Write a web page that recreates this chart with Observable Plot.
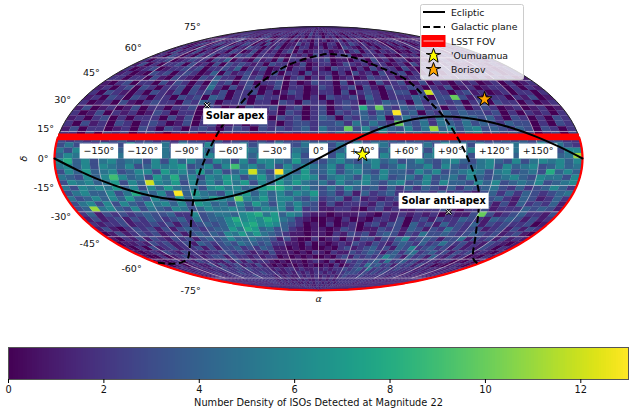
<!DOCTYPE html>
<html>
<head>
<meta charset="utf-8">
<script src="https://cdn.jsdelivr.net/npm/d3@7"></script>
<script src="https://cdn.jsdelivr.net/npm/@observablehq/plot@0.6"></script>
<style>
html,body{margin:0;padding:0;background:#fff;}
#wrap{position:relative;width:633px;height:414px;overflow:hidden;font-family:"DejaVu Sans";}
#wrap svg{display:block;}
#legend{position:absolute;left:420px;top:4px;}
</style>
</head>
<body>
<div id="wrap"></div>
<script>
// Counts per cell. One string per 3 degree declination row (+90 at top),
// one base-14 digit per 6 degree right ascension column (-180 at left).
const densityRows = [
"1212112121 1212122121 1212212112 1212112121 1221212121 1212212112",
"2112121211 2121211212 1121212211 2121121212 1212112121 2112121212",
"1221211212 1212212112 2121211212 1121212212 1121212121 1221211212",
"1022123021 2031202212 1202211312 1012212102 1202102212 1201202021",
"2012202132 1202231012 2102120212 2021201202 1220201202 1012201202",
"1201302122 3021201302 1202012102 1201220212 0121201122 1021201202",
"2013102312 0213202031 2201131202 1022021321 2012102021 2012012021",
"1202031203 2302132202 1301202201 2021032102 1202201202 1201202012",
"2031203021 2203201302 1202302012 2201202302 2021201021 1202012102",
"1203202031 3022032302 2201021203 1202230022 1201021202 2012021202",
"2022301232 2032402103 1203022012 2301102203 1202201102 1202201202",
"1302022303 1203032321 2032201301 2201321202 2012031202 1201021021",
"2012301223 2302232402 2301302202 1032202031 2203102012 2012201012",
"1201032302 3201403123 1203022031 2202031203 1230202202 1201202012",
"2202203103 2103242203 2302202302 1301201322 2012230121 2202021201",
"1023022031 3202042302 3022302013 2203022031 2301302102 1201202012",
"1202303202 2303152031 3201302201 3202303103 2232021301 2012202021",
"2032102032 1303231302 2302013201 2203023202 3303c32023 1201202202",
"1203203202 2032304302 2032201202 0322314202 2243033a31 2022021301",
"2012031023 2203243022 3022032032 2023203243 3042332302 3032202012",
"1301201302 2022303201 0322302302 3023283a32 4342302302 3201201201",
"2013021201 3202201302 2301203202 303234243d 3403243433 2302021202",
"1202302022 2031302023 1202032302 4303243503 5342532443 4203202032",
"2031203202 3201302301 2023202332 334253532a 4352543534 3243302032",
"1302201203 2032023202 3203232342 533a363643 635b463563 4324303202",
"2203032302 3202331323 2322323233 4353453635 4534643563 4343302303",
"3232323423 3232433242 3323243343 3433434443 3434443433 3434343322",
"3533253363 4352533632 3534353354 5353635534 4353645353 4354363532",
"5363534453 6354356434 5654363543 5346453463 5536344635 4653465366",
"4653664534 3654634656 3646534634 5364363646 4356436354 634636345b",
"6846356455 3636464365 3636654743 3564356453 4643564356 4363565646",
"5646365463 4656734636 9564636465 4636546346 4463643456 3645634645",
"3647456346 6375647463 46c53d6474 4635643644 3646345653 5634538464",
"5436469645 3758463657 6357465676 3565364634 5363453643 4564365536",
"3656457364 c657364647 5736475754 5364564356 3463644364 6345463456",
"5365657463 6475453675 6457886464 3536434242 4243242434 5324234642",
"3564463585 463d475436 5746464657 3424142342 2332423213 4242432345",
"5346464743 6437465765 a657466435 2341312123 2231231422 3421431242",
"3563636436 5646376453 6475364643 1312221321 1312123121 3131423241",
"34b5643635 4365346556 5346563623 1122102312 1122231022 3122243431",
"2413232343 3422634554 6785746521 1011121021 2121202113 a312342213",
"1312313243 2342534468 6768754210 0102010221 3023132243 2143431312",
"2122312232 3132343467 7867643201 0201202313 3042314232 4132322301",
"1310232313 1343234475 8745342101 1013201132 3143132532 3312313132",
"0131232312 3134343657 5754321101 1021323134 3132533432 3432312310",
"1021313213 2313434644 5443131002 0120213313 2462343133 5132313121",
"0112132312 3143234354 4342211020 1012132132 1343242353 2312132101",
"1020312312 2313133423 2431101010 0102312342 3143623423 1312132021",
"1012132132 2122332321 2131110102 1021132343 1342452342 3132312102",
"1002012312 1233132212 1220101010 0102313232 3643142314 2131201021",
"0101202132 2113131312 2101011012 1020132323 4252342312 2122010202",
"1012012113 1312312131 1010101010 0102012325 3423132313 1201012101",
"2121212122 3223232222 1212212112 1212232342 5232323222 1212121212",
"1212112212 2232222322 2112121212 2121223332 3232322221 2121211212",
"2111212122 2222322221 2121121212 1212123222 3222222122 1212112121",
"1212121212 2222222212 1211212112 1212122222 2222221212 1212121211",
"2121212121 2121222121 2121121212 2121212222 2212212121 2112121212",
"1212112212 1212121212 1212212112 1212122121 2121212112 1212112121",
"2112121121 2121212121 2112121212 1212121212 1212121221 2121212121",
"1211212112 1212121212 1212112121 2121212121 1212121212 1212121212"
];

const eclipticRA  = [-180,-165,-150,-135,-120,-105,-90,-75,-60,-45,-30,-15,0,15,30,45,60,75,90,105,120,135,150,165,180];
const eclipticDec = [0,-6.4,-12.3,-17.1,-20.6,-22.8,-23.5,-22.8,-20.6,-17.1,-12.3,-6.4,0,6.4,12.3,17.1,20.6,22.8,23.5,22.8,20.6,17.1,12.3,6.4,0];

const galacticWestRA  = [-178,-167,-152.7,-136.8,-122.7,-107.5,-91.9,-82.6,-76.4,-71.2,-67.6,-59.9,-49.9,-29.8,0,13.4,37,58.3,75.2,82.2,89.9,96,101.6,106.3,112.5,118.7,131.8,161.8,178];
const galacticWestDec = [-62.5,-63.4,-62.5,-59.6,-54,-44.2,-26.3,-9.95,1.66,11.6,18.4,28.6,41.8,54.7,61.7,62.8,60.2,53.3,44.9,34.5,23.5,11.6,0.55,-7.75,-17.8,-29.2,-44.2,-59.6,-63];

const fovDec = 12;
const raTicks = [-150,-120,-90,-60,-30,0,30,60,90,120,150];
const raLabels = ["−150°","−120°","−90°","−60°","−30°","0°","+30°","+60°","+90°","+120°","+150°"];
const decTicks = [-75,-60,-45,-30,-15,0,15,30,45,60,75];
const decLabels = ["-75°","-60°","-45°","-30°","-15°","0°","15°","30°","45°","60°","75°"];
const gridLat = [-75,-60,-45,-30,-15,15,30,45,60,75];

const isoNames = ["'Oumuamua","Borisov"];
const isoRA = [30,126.7];
const isoDec = [2.2,33.5];
const isoColors = ["yellow","orange"];

const apexNames = ["Solar apex","Solar anti-apex"];
const apexRA = [-83,97];
const apexDec = [30,-30];

const colorTicks = [0,2,4,6,8,10,12];
const colorMax = 13;

// Mollweide, planar
function moll(lon,lat){
  const phi=lat*Math.PI/180, target=Math.PI*Math.sin(phi);
  let t=phi;
  if(Math.abs(lat)>=90) t=Math.sign(lat)*Math.PI/2;
  else for(let i=0;i<30;i++){
    const d=(2*t+Math.sin(2*t)-target)/(2+2*Math.cos(2*t));
    t-=d; if(Math.abs(d)<1e-9) break;
  }
  return [318+264*(lon/180)*Math.cos(t),158-132*Math.sin(t)];
}
const projection=d3.geoTransform({point(x,y){const p=moll(x,y);this.stream.point(p[0],p[1]);}});

const cells=[];
densityRows.forEach((row,r)=>{
  const digits=row.replace(/ /g,"");
  for(let c=0;c<digits.length;c++){
    const w=-180+6*c,e=w+6,n=90-3*r,s=n-3;
    cells.push({value:parseInt(digits[c],14),geometry:{type:"Polygon",coordinates:[[[w,s],[w,n],[e,n],[e,s],[w,s]]]}});
  }
});
const colorDomain={type:"linear",scheme:"viridis",domain:[0,colorMax]};
const latSweep=d3.range(-90,90.01,2);
const merLats=d3.range(-75,75.01,3);
const lonSweep=d3.range(-180,180.01,3);
const box=(w,h)=>({draw(ctx){ctx.rect(-w/2,-h/2,w,h);}});
const baseStyle={fontFamily:"DejaVu Sans",fontSize:"9px",background:"transparent",overflow:"visible"};
const gridStyle={x:"lon",y:"lat",curve:"linear",stroke:"#e4dce4",strokeOpacity:0.6,strokeWidth:0.9};
const butt={strokeLinecap:"butt",strokeLinejoin:"round"};

const marks=[
  Plot.geo(cells,{geometry:d=>d.geometry,fill:d=>d.value,stroke:d=>d.value,strokeWidth:0.25}),
  ...gridLat.map(lat=>Plot.line(lonSweep.map(lon=>({lon,lat})),gridStyle)),
  ...raTicks.map(lon=>Plot.line(merLats.map(lat=>({lon,lat})),gridStyle)),
  ...raTicks.map((lon,i)=>Plot.dot([{lon,lat:4.2}],{x:"lon",y:"lat",r:5,fill:"white",stroke:"none",symbol:box(raLabels[i].length*6.5+6,15)})),
  ...raTicks.map((lon,i)=>Plot.text([{lon,lat:4.2}],{x:"lon",y:"lat",text:()=>raLabels[i],fill:"#111",fontSize:9.5})),
  ...decTicks.map((lat,i)=>Plot.text([{lat}],{x:()=>-180,y:"lat",text:()=>decLabels[i],textAnchor:"end",dx:-6,dy:-lat*0.165,fill:"#111",fontSize:9.5})),
  Plot.line(latSweep.map(lat=>({lat,lon:-180})),{x:"lon",y:"lat",curve:"linear",stroke:"#222",strokeWidth:1}),
  Plot.line(latSweep.map(lat=>({lat,lon:180})),{x:"lon",y:"lat",curve:"linear",stroke:"#222",strokeWidth:1}),
  Plot.line(d3.range(-90,fovDec+.01,2).map(lat=>({lat,lon:-180})),{x:"lon",y:"lat",curve:"linear",stroke:"red",strokeWidth:2.2,...butt}),
  Plot.line(d3.range(-90,fovDec+.01,2).map(lat=>({lat,lon:180})),{x:"lon",y:"lat",curve:"linear",stroke:"red",strokeWidth:2.2,...butt}),
  Plot.line(lonSweep.map(lon=>({lon,lat:fovDec})),{x:"lon",y:"lat",curve:"linear",stroke:"red",strokeWidth:6.6,...butt}),
  Plot.line(eclipticRA.map((lon,i)=>({lon,lat:eclipticDec[i]})),{x:"lon",y:"lat",curve:"catmull-rom",stroke:"black",strokeWidth:2}),
  Plot.line(galacticWestRA.map((lon,i)=>({lon,lat:galacticWestDec[i]})),{x:"lon",y:"lat",curve:"catmull-rom",stroke:"black",strokeWidth:2,strokeDasharray:"7,3.5",...butt}),
  ...apexNames.map((name,i)=>Plot.dot([{lon:apexRA[i],lat:apexDec[i]}],{x:"lon",y:"lat",symbol:"times",r:2.5,stroke:"black",strokeWidth:2.4})),
  ...apexNames.map((name,i)=>Plot.dot([{lon:apexRA[i],lat:apexDec[i]}],{x:"lon",y:"lat",symbol:"times",r:2.5,stroke:"white",strokeWidth:1})),
  Plot.dot([0,1],{x:i=>isoRA[i],y:i=>isoDec[i],symbol:"star",r:4.6,fill:i=>isoColors[i],stroke:"black",strokeWidth:1}),
  Plot.dot([0],{x:()=>apexRA[0],y:()=>apexDec[0],dx:28,dy:11,symbol:box(64,16),r:5,fill:"white",stroke:"none"}),
  Plot.text([0],{x:()=>apexRA[0],y:()=>apexDec[0],dx:28,dy:11,text:()=>apexNames[0],fontWeight:"bold",fontSize:9.8,fill:"black"}),
  Plot.dot([0],{x:()=>apexRA[1],y:()=>apexDec[1],dx:-5,dy:-11,symbol:box(90,16),r:5,fill:"white",stroke:"none"}),
  Plot.text([0],{x:()=>apexRA[1],y:()=>apexDec[1],dx:-5,dy:-11,text:()=>apexNames[1],fontWeight:"bold",fontSize:9.8,fill:"black"}),
  Plot.text([0],{x:()=>0,y:()=>-90,dy:8,text:()=>"α",fontStyle:"italic",fontSize:9.5,fill:"#111"}),
  Plot.text([0],{x:()=>-180,y:()=>0,dx:-31,text:()=>"δ",fontStyle:"italic",rotate:-90,fontSize:9.5,fill:"#111"})
];

const main=Plot.plot({width:633,height:340,margin:0,projection,color:colorDomain,style:baseStyle,marks});

const steps=d3.range(0,256).map(i=>i/256*colorMax);
const bar=Plot.plot({
  width:633,height:74,marginLeft:8,marginRight:5,marginTop:7,marginBottom:35,
  style:baseStyle,color:colorDomain,
  y:{domain:[0,1],axis:null},
  x:{domain:[0,colorMax]},
  marks:[
    Plot.rect(steps,{x1:d=>d,x2:d=>d+colorMax/256,y1:()=>0,y2:()=>1,fill:d=>d+colorMax/512,shapeRendering:"crispEdges"}),
    Plot.frame({stroke:"#555",strokeWidth:1}),
    Plot.axisX({ticks:colorTicks,tickSize:4,tickPadding:3,tickFormat:d=>String(d),label:"Number Density of ISOs Detected at Magnitude 22",labelAnchor:"center",labelArrow:"none",labelOffset:26,fill:"#111",fontSize:9.8})
  ]
});

const wrap=document.getElementById("wrap");
wrap.append(main,bar);

// Legend box
const lg=[
  '<svg id="legend" width="104" height="76" font-family="DejaVu Sans" font-size="9.3" fill="#111">',
  '<rect x="0.5" y="0.5" width="103" height="75" rx="2" fill="#fff" fill-opacity="0.8" stroke="#ccc"/>',
  '<line x1="3" x2="25" y1="8" y2="8" stroke="black" stroke-width="2"/><text x="31" y="11.5">Ecliptic</text>',
  '<line x1="3" x2="25" y1="23" y2="23" stroke="black" stroke-width="2" stroke-dasharray="7,3.5"/><text x="31" y="26">Galactic plane</text>',
  '<rect x="1.5" y="31" width="24" height="12" fill="red"/><line x1="3.5" x2="23.5" y1="37" y2="37" stroke="#ffc0c0" stroke-width="1"/><text x="31" y="40.5">LSST FOV</text>',
  '<path transform="translate(13.5,52)" d="M0-7.6 L1.9-2.4 L7.3-2.4 L3-0.9 L4.6 6.2 L0 2.8 L-4.6 6.2 L-3-0.9 L-7.3-2.4 L-1.9-2.4Z" fill="yellow" stroke="black"/><text x="31" y="55">\'Oumuamua</text>',
  '<path transform="translate(13.5,66)" d="M0-7.6 L1.9-2.4 L7.3-2.4 L3-0.9 L4.6 6.2 L0 2.8 L-4.6 6.2 L-3-0.9 L-7.3-2.4 L-1.9-2.4Z" fill="orange" stroke="black"/><text x="31" y="69">Borisov</text>',
  '</svg>'
].join("");
wrap.insertAdjacentHTML("beforeend",lg);
</script>
</body>
</html>
